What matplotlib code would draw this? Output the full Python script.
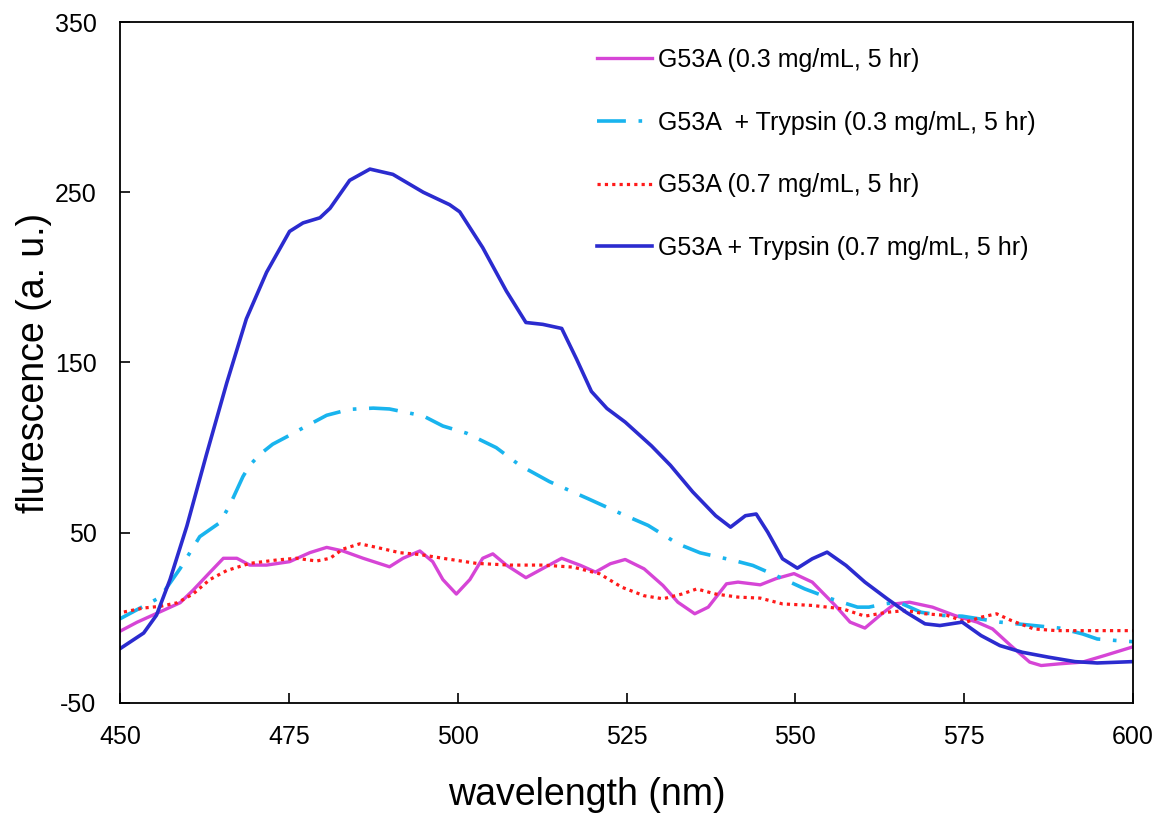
import matplotlib.pyplot as plt

plt.rcParams['font.family'] = ['Liberation Sans', 'DejaVu Sans']
plt.rcParams['axes.unicode_minus'] = False

# Emission spectra (wavelength in nm, fluorescence in a.u.)
wl_a = [449.5, 452.5, 455.4, 458.9, 460.8, 463.3, 465.3, 467.3, 469.2, 471.7, 475.1,
        478.1, 480.6, 483.0, 486.0, 489.9, 491.9, 494.4, 496.3, 497.8, 499.8, 501.8,
        503.7, 505.2, 507.2, 510.1, 512.6, 515.4, 518.2, 520.4, 522.6, 524.8, 527.6,
        530.4, 532.6, 535.1, 537.1, 539.8, 541.5, 544.8, 547.1, 549.8, 552.5, 555.9,
        558.1, 560.3, 562.5, 564.7, 566.9, 570.3, 573.6, 576.9, 579.2, 581.9, 584.7,
        586.4, 589.1, 592.5, 595.9, 600.0]
fl_a = [-8.9, -2.6, 2.6, 8.9, 16.2, 26.7, 35, 35, 31, 31, 33,
        38.3, 41.4, 39.3, 35, 30, 35, 39.3, 33, 22.5, 14, 22.5,
        35, 37.6, 31, 23.6, 29, 35, 30.8, 26.9, 31.8, 34.3, 28.8,
        19, 9.2, 2.4, 6.3, 20, 21, 19.4, 23, 26, 21, 7.3,
        -2.5, -6, 1.4, 8.2, 9.2, 6.3, 1.4, -2.5, -6.5, -16.3, -26,
        -28, -27, -26, -22, -17]

wl_b = [449.5, 455.9, 458.9, 461.8, 464.8, 466.3, 468.2, 469.2, 470.7, 472.6, 474.7,
        477.1, 480.6, 484.0, 487.5, 489.9, 494.9, 497.8, 501.3, 505.7, 509.2, 513.6,
        519.3, 524.3, 528.2, 532.6, 535.9, 540.9, 543.7, 547.6, 551.4, 555.3, 559.2,
        560.9, 563.1, 565.3, 568.6, 571.9, 574.7, 580.3, 585.3, 589.1, 592.5, 594.7,
        597.5, 600.0]
fl_b = [-1.6, 12, 29, 47.7, 56, 66.6, 83, 89.6, 96, 102, 106.4,
        111.6, 119, 122.5, 123.2, 122.7, 118.6, 112.7, 108.5, 100, 89.6, 80,
        70, 61, 54.3, 43.5, 38.2, 33.7, 30.8, 24, 17, 11.2, 6.3,
        6.3, 8.2, 9.2, 3.3, 1.4, 1, -2.5, -4.5, -6, -9.4, -12.4,
        -13.3, -14]

wl_c = [449.5, 453.5, 456.0, 458.5, 460.8, 463.3, 465.8, 469.2, 473.2, 476.1, 479.1,
        481.1, 483.0, 485.5, 488.0, 491.4, 494.4, 497.8, 502.8, 507.7, 512.6, 517.1,
        521.0, 524.3, 527.6, 530.4, 533.2, 535.4, 538.2, 541.5, 544.8, 548.1, 552.5,
        557.0, 560.3, 563.6, 566.4, 569.2, 572.5, 575.3, 577.5, 579.8, 582.0, 585.3,
        588.7, 594.2, 600.0]
fl_c = [2.6, 5.8, 6.8, 8.9, 14, 22.5, 27.8, 32, 34, 35, 33.4,
        35, 40.4, 43.5, 41.4, 38.3, 37.2, 35, 32, 31, 31, 29.8,
        25.9, 18, 13, 11.2, 14, 17, 14, 12.2, 11.6, 8.2, 7.3,
        5.3, 1, 3.3, 4.3, 2.4, 1.4, -2.5, 0.4, 2.4, -1.6, -6.5,
        -7.5, -7.5, -7.5]

wl_d = [449.5, 453.5, 455.4, 457.4, 459.9, 462.8, 465.8, 468.7, 471.7, 475.1, 477.1,
        479.6, 481.1, 484.0, 487.0, 490.4, 494.9, 498.8, 500.3, 503.7, 507.2, 510.1,
        512.6, 515.4, 517.6, 519.8, 522.1, 524.8, 528.7, 531.5, 534.8, 538.2, 540.4,
        542.6, 544.2, 545.9, 548.1, 550.3, 552.5, 554.7, 557.5, 560.3, 563.6, 566.4,
        569.2, 571.4, 574.7, 577.5, 580.3, 583.6, 587.5, 591.4, 594.7, 600.0]
fl_d = [-19.4, -8.9, 1.6, 22.5, 54, 96, 138, 175.6, 203, 227, 232,
        235, 240.6, 257, 263.6, 260.5, 250, 242.7, 238.5, 217.5, 192, 173.5,
        172.4, 170, 152, 133, 123, 115, 101, 89.6, 74, 60, 53.3,
        60, 61, 50.4, 34.7, 29.2, 34.7, 38.6, 30.8, 21, 11.2, 3.3,
        -3.5, -4.5, -2.5, -10.4, -16.3, -20.2, -23.1, -25.7, -26.5, -25.7]

labels = ['G53A (0.3 mg/mL, 5 hr)',
          'G53A  + Trypsin (0.3 mg/mL, 5 hr)',
          'G53A (0.7 mg/mL, 5 hr)',
          'G53A + Trypsin (0.7 mg/mL, 5 hr)']

fig = plt.figure(figsize=(11.61, 8.18), dpi=100)
ax = fig.add_axes([0.1034, 0.1406, 0.8725, 0.8325])

ax.plot(wl_a, fl_a, color='#d645d6', lw=2.4, label=labels[0])
ax.plot(wl_b, fl_b, color='#19b4ee', lw=2.6, linestyle=(0, (8, 3.5, 1, 3.5)),
        label=labels[1])
ax.plot(wl_c, fl_c, color='#ff1a1a', lw=2.3, linestyle=(0, (1, 1.3)), label=labels[2])
ax.plot(wl_d, fl_d, color='#2b2bcf', lw=2.6, label=labels[3])

ax.set_xlim(450, 600)
ax.set_ylim(-50, 350)
ax.set_xticks([450, 475, 500, 525, 550, 575, 600])
ax.set_yticks([-50, 50, 150, 250, 350])
ax.tick_params(direction='in', length=7, width=1.2, labelsize=18,
               top=False, right=False)
ax.tick_params(axis='x', pad=16)
ax.tick_params(axis='y', pad=17)
for s in ax.spines.values():
    s.set_linewidth(1.3)

ax.set_xlabel('wavelength (nm)', fontsize=27)
ax.xaxis.set_label_coords(0.461, -0.108)
ax.set_ylabel('flurescence (a. u.)', fontsize=27, labelpad=2)

ax.legend(loc='upper left', frameon=False, fontsize=18, handlelength=2.2,
          handletextpad=0.25, labelspacing=1.55, borderaxespad=0, borderpad=0,
          bbox_to_anchor=(0.471, 0.962))

fig.savefig('out.png', dpi=100)
